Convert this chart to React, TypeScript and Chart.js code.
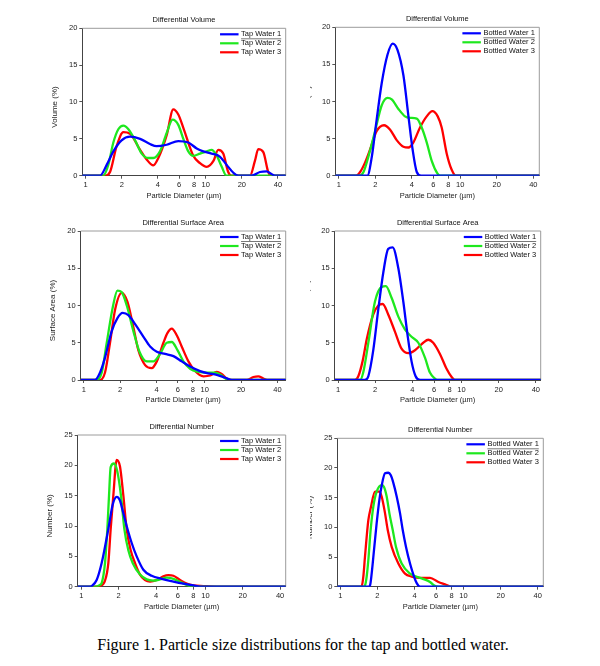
import React, { useEffect, useRef } from "react";
import { Chart, registerables } from "chart.js";
Chart.register(...registerables);

type Pt = [number, number];

// ---------- tick labels / categories ----------
const diameterTicks = [1, 2, 4, 6, 8, 10, 20, 40];
const percentTicks20 = [0, 5, 10, 15, 20];
const percentTicks25 = [0, 5, 10, 15, 20, 25];
const tapLabels = ["Tap Water 1", "Tap Water 2", "Tap Water 3"];
const bottledLabels = ["Bottled Water 1", "Bottled Water 2", "Bottled Water 3"];
const panelTitles = ["Differential Volume", "Differential Surface Area", "Differential Number"];
const yTitles = ["Volume (%)", "Surface Area (%)", "Number (%)"];
const xTitle = "Particle Diameter (\u00b5m)";
const caption = "Figure 1. Particle size distributions for the tap and bottled water.";

// ---------- series: [diameter (um), percent] ----------
const tapVolume1: Pt[] = [[0.9,0],[1.316,0],[1.5,1.5],[1.7,3.3],[1.99,4.8],[2.34,5.3],[2.84,5.0],[3.43,4.3],[3.9,4.0],[4.73,4.2],[5.91,4.7],[7.16,4.5],[8.41,3.7],[9.55,3.3],[11.2,3.0],[13.1,2.6],[14.9,1.5],[17.0,0.4],[18.7,0],[24.1,0],[28.3,0.5],[32.2,0.6],[34.8,0.3],[37.7,0],[50,0]];
const tapVolume2: Pt[] = [[0.9,0],[1.4,0],[1.545,1.5],[1.7,4.5],[1.87,6.3],[2.06,6.8],[2.27,6.3],[2.58,4.8],[2.93,3.0],[3.32,2.4],[3.66,2.4],[4.16,3.3],[4.73,5.8],[5.3,7.6],[5.91,6.9],[6.51,5.0],[7.16,3.3],[7.88,2.7],[8.96,3.0],[10.2,3.3],[11.2,3.5],[12.3,2.8],[13.6,1.2],[14.9,0],[50,0]];
const tapVolume3: Pt[] = [[0.9,0],[1.45,0],[1.595,0.5],[1.81,4.0],[2.06,5.9],[2.34,5.7],[2.84,3.5],[3.22,2.2],[3.66,1.4],[4.03,2.4],[4.73,5.5],[5.37,9.0],[5.91,8.3],[6.51,6.5],[7.88,2.7],[8.96,1.7],[10.2,1.2],[11.6,2.0],[12.7,3.5],[14.0,3.0],[15.4,0.5],[16.4,0],[23.4,0],[25.7,2.0],[27.4,3.6],[30.2,3.2],[33.2,0.5],[35.4,0],[50,0]];

const bottledVolume1: Pt[] = [[0.9,0],[1.72,0],[1.87,2.5],[2.05,7.5],[2.26,12.5],[2.52,16.3],[2.78,17.8],[3.04,17.0],[3.41,13.5],[3.75,8.0],[4.06,3.5],[4.39,0.5],[4.76,0],[50,0]];
const bottledVolume2: Pt[] = [[0.9,0],[1.48,0],[1.6,0.5],[1.75,2.5],[1.99,6.0],[2.26,9.5],[2.52,10.5],[2.73,10.3],[3.1,9.0],[3.51,8.0],[3.87,7.8],[4.39,7.7],[4.82,6.5],[5.3,4.5],[5.83,2.0],[6.49,0.3],[6.82,0],[50,0]];
const bottledVolume3: Pt[] = [[0.9,0],[1.39,0],[1.5,0.5],[1.65,1.8],[1.81,3.5],[2.05,6.0],[2.36,6.8],[2.65,6.2],[3.0,4.8],[3.41,3.9],[3.75,3.8],[4.12,4.5],[4.67,6.5],[5.3,8.0],[5.9,8.7],[6.53,8.0],[7.04,6.5],[7.74,3.0],[8.51,0.8],[9.24,0],[50,0]];

const tapSurface1: Pt[] = [[0.9,0],[1.24,0],[1.365,1.0],[1.5,3.0],[1.7,6.5],[1.9,8.3],[2.1,9.0],[2.34,8.7],[2.66,7.5],[3.12,5.8],[3.54,4.5],[4.02,3.8],[4.71,3.5],[5.52,3.2],[6.46,2.5],[7.58,1.8],[9.17,1.2],[10.7,0.9],[12.6,0.7],[14.8,0.3],[16.8,0],[50,0]];
const tapSurface2: Pt[] = [[0.9,0],[1.28,0],[1.41,1.0],[1.55,5.0],[1.74,9.8],[1.9,12.0],[2.06,11.8],[2.27,10.0],[2.58,6.5],[2.89,3.8],[3.32,2.5],[3.77,2.5],[4.28,3.5],[4.86,5.0],[5.35,5.1],[5.96,4.0],[6.67,2.5],[7.58,1.5],[8.88,1.1],[10.4,1.0],[12.2,1.0],[13.8,0.6],[15.7,0],[50,0]];
const tapSurface3: Pt[] = [[0.9,0],[1.365,0],[1.5,1.0],[1.65,5.0],[1.82,9.5],[2.06,11.7],[2.3,10.5],[2.58,7.0],[2.83,4.0],[3.22,2.0],[3.65,1.6],[4.02,2.5],[4.56,5.0],[4.92,6.3],[5.35,6.9],[5.88,6.0],[6.46,4.5],[7.34,2.5],[8.33,1.2],[9.77,0.5],[11.1,0.6],[12.6,1.1],[13.8,0.8],[15.2,0.2],[16.8,0],[22.3,0],[25.3,0.4],[27.8,0.5],[30.6,0.2],[33.7,0],[50,0]];

const bottledSurface1: Pt[] = [[0.9,0],[1.65,0],[1.76,0.5],[1.93,4.0],[2.12,9.5],[2.33,14.5],[2.55,17.6],[2.77,17.8],[3.08,15.0],[3.38,10.5],[3.66,6.0],[3.94,2.5],[4.25,0.5],[4.61,0],[50,0]];
const bottledSurface2: Pt[] = [[0.9,0],[1.51,0],[1.6,1.0],[1.76,5.0],[1.99,10.5],[2.26,12.5],[2.44,12.6],[2.72,11.0],[3.08,8.5],[3.48,6.8],[3.94,5.8],[4.47,5.0],[5.06,3.0],[5.55,1.0],[6.1,0.2],[6.4,0],[50,0]];
const bottledSurface3: Pt[] = [[0.9,0],[1.37,0],[1.46,0.5],[1.58,2.5],[1.71,5.5],[1.93,8.8],[2.12,10.0],[2.3,10.2],[2.55,8.8],[2.89,6.5],[3.27,4.2],[3.71,3.6],[4.2,4.0],[4.9,5.0],[5.38,5.4],[5.9,5.0],[6.69,3.5],[7.57,1.5],[8.32,0.4],[8.84,0],[50,0]];

const tapNumber1: Pt[] = [[0.9,0],[1.175,0],[1.211,0.1],[1.329,1.1],[1.459,3.9],[1.651,9.5],[1.789,13.5],[1.928,14.8],[2.05,14.2],[2.114,13.2],[2.32,10.0],[2.547,7.2],[2.794,5.0],[3.162,2.8],[3.692,1.8],[4.445,1.3],[5.521,0.85],[6.647,0.5],[8.002,0.2],[9.057,0],[50,0]];
const tapNumber2: Pt[] = [[0.9,0],[1.289,0],[1.414,0.3],[1.459,0.6],[1.552,3.9],[1.621,9.5],[1.672,15],[1.724,19.7],[1.834,20.3],[1.951,19.0],[2.088,15],[2.223,9.5],[2.393,6.0],[2.594,3.9],[2.972,2.0],[3.365,1.2],[3.807,1.0],[4.309,1.2],[4.877,1.5],[5.521,1.3],[6.248,0.8],[7.071,0.3],[7.76,0],[50,0]];
const tapNumber3: Pt[] = [[0.9,0],[1.371,0],[1.414,0.1],[1.552,1.0],[1.651,3.9],[1.724,9.5],[1.811,15],[1.928,20.9],[2.05,19.8],[2.182,15],[2.32,9.5],[2.5,6.0],[2.709,3.9],[2.972,2.0],[3.262,1.1],[3.579,0.85],[4.05,1.1],[4.584,1.7],[5.03,1.9],[5.521,1.8],[6.248,1.1],[7.071,0.5],[8.002,0.2],[9.636,0.1],[12.73,0],[50,0]];

const bottledNumber1: Pt[] = [[0.9,0],[1.688,0],[1.741,0.2],[1.796,2.2],[1.877,6.2],[1.972,10.7],[2.073,14.6],[2.165,17.0],[2.305,19.1],[2.454,19.2],[2.563,18.8],[2.693,17.5],[2.867,15.2],[3.051,12.4],[3.207,9.6],[3.413,6.7],[3.679,3.9],[3.964,1.7],[4.168,0.6],[4.435,0],[50,0]];
const bottledNumber2: Pt[] = [[0.9,0],[1.537,0],[1.586,0.2],[1.636,1.7],[1.688,4.5],[1.763,9.6],[1.853,13.5],[1.972,16.0],[2.165,17.1],[2.262,16.8],[2.378,15.2],[2.5,12.4],[2.66,9.6],[2.831,6.7],[3.147,3.9],[3.679,2.2],[4.575,1.4],[5.346,0.8],[5.69,0.3],[6.248,0],[50,0]];
const bottledNumber3: Pt[] = [[0.9,0],[1.444,0],[1.49,0.1],[1.537,1.7],[1.586,5.1],[1.688,11.2],[1.763,13.2],[1.912,16.0],[2.073,16.0],[2.165,15.2],[2.305,12.4],[2.423,9.6],[2.611,6.7],[2.958,3.9],[3.35,2.2],[3.795,1.7],[4.435,1.5],[5.346,1.5],[6.248,0.8],[7.075,0.4],[8.014,0],[50,0]];

// ---------- styling / layout ----------
const seriesColors = ["#0000ff", "#1ee81e", "#ff0000"];
const FONT = '"Liberation Sans", Arial, sans-serif';
const Y_W = 20;
const X_H = 25;

interface PanelCfg {
  box: { x: number; y: number; w: number; h: number };
  plot: { l: number; r: number; t: number; b: number };
  xMin: number;
  xMax: number;
  yMax: number;
  yTicks: number[];
  title: string;
  yTitle: string;
  labels: string[];
  series: Pt[][];
}

const panels: PanelCfg[] = [
  { box: { x: 0, y: 0, w: 310, h: 210 }, plot: { l: 82.3, r: 285.7, t: 28.3, b: 175.7 }, xMin: 0.937, xMax: 46.4, yMax: 20, yTicks: percentTicks20, title: panelTitles[0], yTitle: yTitles[0], labels: tapLabels, series: [tapVolume1, tapVolume2, tapVolume3] },
  { box: { x: 310, y: 0, w: 290, h: 210 }, plot: { l: 335.3, r: 539.3, t: 27.3, b: 175.7 }, xMin: 0.937, xMax: 44.8, yMax: 20, yTicks: percentTicks20, title: panelTitles[0], yTitle: yTitles[0], labels: bottledLabels, series: [bottledVolume1, bottledVolume2, bottledVolume3] },
  { box: { x: 0, y: 210, w: 310, h: 205 }, plot: { l: 80.7, r: 285.7, t: 231, b: 380 }, xMin: 0.944, xMax: 46.8, yMax: 20, yTicks: percentTicks20, title: panelTitles[1], yTitle: yTitles[1], labels: tapLabels, series: [tapSurface1, tapSurface2, tapSurface3] },
  { box: { x: 310, y: 210, w: 290, h: 205 }, plot: { l: 334.7, r: 540.7, t: 231, b: 380 }, xMin: 0.94, xMax: 43.8, yMax: 20, yTicks: percentTicks20, title: panelTitles[1], yTitle: yTitles[1], labels: bottledLabels, series: [bottledSurface1, bottledSurface2, bottledSurface3] },
  { box: { x: 0, y: 415, w: 310, h: 210 }, plot: { l: 77.7, r: 285.7, t: 435, b: 586.7 }, xMin: 0.935, xMax: 44.4, yMax: 25, yTicks: percentTicks25, title: panelTitles[2], yTitle: yTitles[2], labels: tapLabels, series: [tapNumber1, tapNumber2, tapNumber3] },
  { box: { x: 310, y: 415, w: 290, h: 210 }, plot: { l: 337.3, r: 543.3, t: 438.3, b: 586.7 }, xMin: 0.945, xMax: 44.4, yMax: 25, yTicks: percentTicks25, title: panelTitles[2], yTitle: yTitles[2], labels: bottledLabels, series: [bottledNumber1, bottledNumber2, bottledNumber3] },
];

const decoPlugin = {
  id: "deco",
  beforeDatasetsDraw(chart: any) {
    const { ctx, chartArea: a } = chart;
    ctx.save();
    ctx.strokeStyle = "#9c9c9c";
    ctx.lineWidth = 1;
    ctx.beginPath();
    ctx.moveTo(a.left, a.top);
    ctx.lineTo(a.right, a.top);
    ctx.lineTo(a.right, a.bottom);
    ctx.stroke();
    ctx.restore();
  },
  afterDraw(chart: any, _args: any, o: any) {
    const { ctx, chartArea: a } = chart;
    ctx.save();
    ctx.fillStyle = "#111";
    ctx.textAlign = "center";
    ctx.textBaseline = "middle";
    ctx.font = `7.5px ${FONT}`;
    const cx = (a.left + a.right) / 2;
    ctx.fillText(o.title, cx, a.top - 8.5);
    ctx.fillStyle = "#222";
    ctx.fillText(o.xTitle, cx, a.bottom + 20);
    ctx.save();
    ctx.translate(a.left - 27.5, (a.top + a.bottom) / 2 + 5);
    ctx.rotate(-Math.PI / 2);
    ctx.font = `8px ${FONT}`;
    ctx.fillText(o.yTitle, 0, 0);
    ctx.restore();
    // legend
    ctx.font = `7.5px ${FONT}`;
    ctx.fillStyle = "#111";
    const widths = o.labels.map((l: string) => ctx.measureText(l).width);
    const W = Math.max(...widths);
    const tx = a.right - 4.5 - W;
    ctx.textAlign = "left";
    o.labels.forEach((l: string, i: number) => {
      const y = a.top + 6 + i * 9;
      ctx.strokeStyle = o.colors[i];
      ctx.lineWidth = 2.2;
      ctx.beginPath();
      ctx.moveTo(tx - 21, y);
      ctx.lineTo(tx - 2.5, y);
      ctx.stroke();
      ctx.fillText(l, tx, y);
    });
    ctx.strokeStyle = "#555";
    ctx.lineWidth = 0.8;
    ctx.beginPath();
    ctx.moveTo(tx, a.top + 10.5);
    ctx.lineTo(tx + widths[0], a.top + 10.5);
    ctx.stroke();
    ctx.restore();
  },
};

function PanelChart({ p }: { p: PanelCfg }) {
  const ref = useRef<HTMLCanvasElement>(null);
  useEffect(() => {
    const c = ref.current!;
    const pad = {
      left: p.plot.l - p.box.x - Y_W,
      right: p.box.x + p.box.w - p.plot.r,
      top: p.plot.t - p.box.y,
      bottom: p.box.y + p.box.h - p.plot.b - X_H,
    };
    const tickFont = { family: FONT, size: 7.5 };
    const chart = new Chart(c, {
      type: "line",
      data: {
        datasets: p.series.map((s, i) => ({
          label: p.labels[i],
          data: s.map(([x, y]) => ({ x, y })),
          borderColor: seriesColors[i],
          backgroundColor: seriesColors[i],
          borderWidth: 2.3,
          pointRadius: 0,
          cubicInterpolationMode: "monotone" as const,
          fill: false,
        })),
      },
      options: {
        responsive: false,
        animation: false,
        devicePixelRatio: 1,
        events: [],
        layout: { padding: pad },
        plugins: {
          legend: { display: false },
          tooltip: { enabled: false },
          title: { display: false },
          deco: { title: p.title, yTitle: p.yTitle, xTitle, labels: p.labels, colors: seriesColors },
        } as any,
        scales: {
          x: {
            type: "logarithmic",
            min: p.xMin,
            max: p.xMax,
            afterFit: (s: any) => { s.height = X_H; },
            afterBuildTicks: (s: any) => { s.ticks = diameterTicks.map((v) => ({ value: v })); },
            ticks: { callback: (v: any) => String(v), autoSkip: false, maxRotation: 0, minRotation: 0, font: tickFont, color: "#222", padding: 2 },
            grid: { drawOnChartArea: false, drawTicks: true, tickLength: 3, color: "#555" },
            border: { display: true, color: "#444", width: 1 },
          },
          y: {
            type: "linear",
            min: 0,
            max: p.yMax,
            afterFit: (s: any) => { s.width = Y_W; },
            afterBuildTicks: (s: any) => { s.ticks = p.yTicks.map((v) => ({ value: v })); },
            ticks: { callback: (v: any) => String(v), font: tickFont, color: "#222", padding: 2 },
            grid: { drawOnChartArea: false, drawTicks: true, tickLength: 3, color: "#555" },
            border: { display: true, color: "#444", width: 1 },
          },
        } as any,
      },
      plugins: [decoPlugin as any],
    });
    return () => chart.destroy();
  }, []);
  return (
    <canvas
      ref={ref}
      width={p.box.w}
      height={p.box.h}
      style={{ position: "absolute", left: p.box.x, top: p.box.y, width: p.box.w, height: p.box.h }}
    />
  );
}

export default function App() {
  return (
    <div style={{ position: "absolute", left: 0, top: 0, width: 600, height: 666, background: "#fff", overflow: "hidden" }}>
      {panels.map((p, i) => (
        <PanelChart key={i} p={p} />
      ))}
      <div
        style={{
          position: "absolute",
          left: 0,
          top: 635,
          width: 606,
          textAlign: "center",
          whiteSpace: "nowrap",
          fontFamily: '"Liberation Serif", "Times New Roman", serif',
          fontSize: 16,
          lineHeight: "20px",
          color: "#000",
        }}
      >
        {caption}
      </div>
    </div>
  );
}
